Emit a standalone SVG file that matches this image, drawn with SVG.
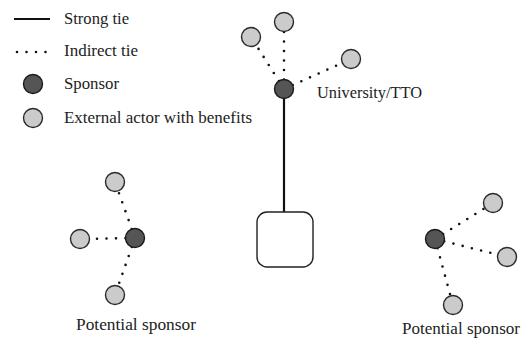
<svg xmlns="http://www.w3.org/2000/svg" width="521" height="347" viewBox="0 0 521 347">
  <style>
    text { font-family: "Liberation Serif", "DejaVu Serif", serif; font-size: 16px; fill: #222; }
    .strong { stroke: #111; stroke-width: 2.2; fill: none; }
    .dotted { stroke: #111; stroke-width: 2.6; stroke-linecap: round; stroke-dasharray: 0 9.5; fill: none; }
    .actor { fill: #cbcbcb; stroke: #2a2a2a; stroke-width: 1.4; }
    .sponsor { fill: #555; stroke: #1a1a1a; stroke-width: 1.4; }
    .box { fill: #fff; stroke: #222; stroke-width: 1.4; }
  </style>

  <!-- Legend -->
  <g id="legend">
    <line class="strong" x1="14" y1="19" x2="50" y2="19"/>
    <text x="64" y="24" textLength="65" lengthAdjust="spacingAndGlyphs">Strong tie</text>
    <line class="dotted" x1="17" y1="52" x2="48" y2="52" stroke-dasharray="0 10"/>
    <text x="64" y="56" textLength="74" lengthAdjust="spacingAndGlyphs">Indirect tie</text>
    <circle class="sponsor" cx="33" cy="84" r="9.5"/>
    <text x="64" y="89" textLength="55" lengthAdjust="spacingAndGlyphs">Sponsor</text>
    <circle class="actor" cx="33" cy="118" r="9.5"/>
    <text x="64" y="123" textLength="188" lengthAdjust="spacingAndGlyphs">External actor with benefits</text>
  </g>

  <!-- Connectors -->
  <g id="connectors">
    <line class="strong" x1="284" y1="89" x2="284" y2="212"/>
    <!-- University/TTO ties -->
    <line class="dotted" x1="284" y1="89" x2="251" y2="37"/>
    <line class="dotted" x1="284" y1="89" x2="284" y2="22"/>
    <line class="dotted" x1="284" y1="89" x2="351" y2="59"/>
    <!-- left sponsor ties -->
    <line class="dotted" x1="135" y1="238" x2="115" y2="182"/>
    <line class="dotted" x1="135" y1="238" x2="80" y2="239"/>
    <line class="dotted" x1="135" y1="238" x2="115" y2="295"/>
    <!-- right sponsor ties -->
    <line class="dotted" x1="435" y1="239" x2="493" y2="203"/>
    <line class="dotted" x1="435" y1="239" x2="507" y2="257"/>
    <line class="dotted" x1="435" y1="239" x2="453" y2="305"/>
  </g>

  <!-- University/TTO cluster -->
  <g id="university">
    <circle class="sponsor" cx="284" cy="89" r="9.5"/>
    <text x="317" y="98" textLength="105" lengthAdjust="spacingAndGlyphs">University/TTO</text>
  </g>
  <g id="uni-actor-left"><circle class="actor" cx="251" cy="37" r="9.5"/></g>
  <g id="uni-actor-top"><circle class="actor" cx="284" cy="22" r="9.5"/></g>
  <g id="uni-actor-right"><circle class="actor" cx="351" cy="59" r="9.5"/></g>

  <!-- Firm -->
  <g id="firm">
    <rect class="box" x="257" y="212" width="56" height="55" rx="10"/>
  </g>

  <!-- Left potential sponsor -->
  <g id="sponsor-left">
    <circle class="sponsor" cx="135" cy="238" r="9.5"/>
    <text x="76" y="330" textLength="120" lengthAdjust="spacingAndGlyphs">Potential sponsor</text>
  </g>
  <g id="left-actor-top"><circle class="actor" cx="115" cy="182" r="9.5"/></g>
  <g id="left-actor-left"><circle class="actor" cx="80" cy="239" r="9.5"/></g>
  <g id="left-actor-bottom"><circle class="actor" cx="115" cy="295" r="9.5"/></g>

  <!-- Right potential sponsor -->
  <g id="sponsor-right">
    <circle class="sponsor" cx="435" cy="239" r="9.5"/>
    <text x="402" y="334" textLength="118" lengthAdjust="spacingAndGlyphs">Potential sponsor</text>
  </g>
  <g id="right-actor-top"><circle class="actor" cx="493" cy="203" r="9.5"/></g>
  <g id="right-actor-right"><circle class="actor" cx="507" cy="257" r="9.5"/></g>
  <g id="right-actor-bottom"><circle class="actor" cx="453" cy="305" r="9.5"/></g>
</svg>
